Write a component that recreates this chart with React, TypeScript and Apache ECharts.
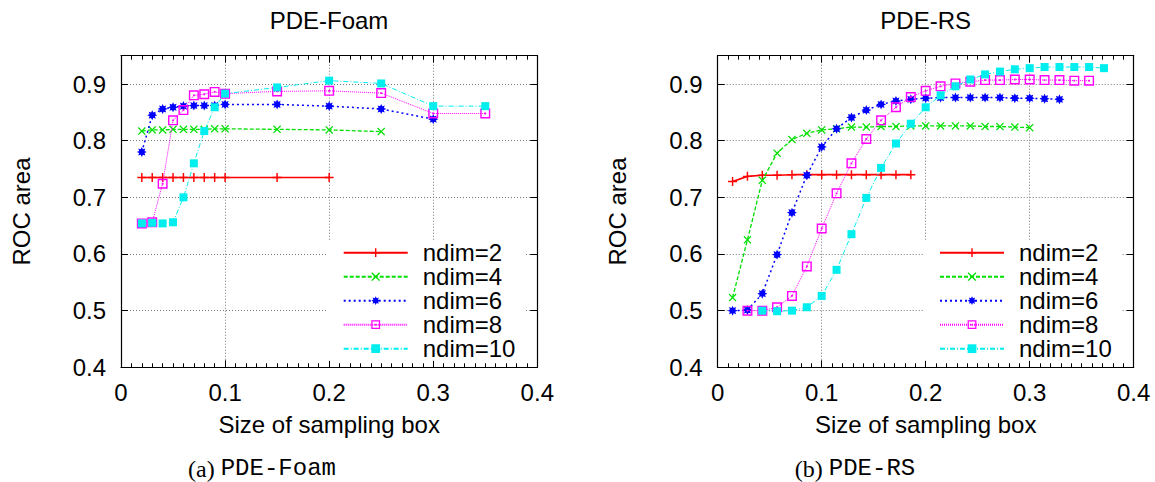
import React, { useEffect, useRef } from 'react';
import * as echarts from 'echarts';

// ---------- data ----------
const SERIES_NAMES = ['ndim=2', 'ndim=4', 'ndim=6', 'ndim=8', 'ndim=10'];

// PDE-Foam: box sizes
const X_FOAM = [0.02, 0.03, 0.04, 0.05, 0.06, 0.07, 0.08, 0.09, 0.1, 0.15, 0.2, 0.25, 0.3, 0.35];
const FOAM_NDIM2 = [0.735, 0.735, 0.735, 0.735, 0.735, 0.735, 0.735, 0.735, 0.735, 0.735, 0.735];
const FOAM_NDIM4 = [0.817, 0.819, 0.819, 0.82, 0.82, 0.82, 0.82, 0.821, 0.821, 0.82, 0.819, 0.816];
const FOAM_NDIM6 = [0.78, 0.845, 0.856, 0.859, 0.861, 0.862, 0.862, 0.862, 0.864, 0.864, 0.861, 0.856, 0.838];
const FOAM_NDIM8 = [0.654, 0.656, 0.724, 0.836, 0.854, 0.88, 0.882, 0.886, 0.883, 0.887, 0.888, 0.884, 0.848, 0.848];
const FOAM_NDIM10 = [0.654, 0.655, 0.654, 0.656, 0.7, 0.76, 0.817, 0.859, 0.883, 0.894, 0.906, 0.901, 0.861, 0.861];

// PDE-RS: box sizes
const X_RS = [0.0143, 0.0286, 0.0429, 0.0571, 0.0714, 0.0857, 0.1, 0.1143, 0.1286, 0.1429, 0.1571, 0.1714, 0.1857,
  0.2, 0.2143, 0.2286, 0.2429, 0.2571, 0.2714, 0.2857, 0.3, 0.3143, 0.3286, 0.3429, 0.3571, 0.3714];
const RS_START = [0, 0, 0, 1, 2]; // index in X_RS where each series begins
const RS_NDIM2 = [0.728, 0.737, 0.739, 0.739, 0.74, 0.74, 0.74, 0.74, 0.74, 0.74, 0.74, 0.74, 0.74];
const RS_NDIM4 = [0.523, 0.625, 0.73, 0.778, 0.802, 0.813, 0.819, 0.821, 0.824, 0.824, 0.825, 0.825, 0.826, 0.826,
  0.826, 0.826, 0.826, 0.825, 0.825, 0.824, 0.823];
const RS_NDIM6 = [0.5, 0.501, 0.53, 0.599, 0.673, 0.739, 0.789, 0.821, 0.841, 0.854, 0.864, 0.87, 0.873, 0.875,
  0.876, 0.876, 0.876, 0.876, 0.876, 0.875, 0.875, 0.874, 0.873];
const RS_NDIM8 = [0.5, 0.5, 0.506, 0.526, 0.578, 0.645, 0.707, 0.76, 0.803, 0.836, 0.859, 0.877, 0.888, 0.896,
  0.901, 0.904, 0.907, 0.907, 0.908, 0.908, 0.907, 0.907, 0.906, 0.906];
const RS_NDIM10 = [0.5, 0.499, 0.5, 0.506, 0.526, 0.572, 0.635, 0.699, 0.752, 0.795, 0.83, 0.859, 0.88, 0.896,
  0.908, 0.917, 0.922, 0.926, 0.928, 0.93, 0.93, 0.93, 0.93, 0.928];

const FOAM_Y = [FOAM_NDIM2, FOAM_NDIM4, FOAM_NDIM6, FOAM_NDIM8, FOAM_NDIM10];
const RS_Y = [RS_NDIM2, RS_NDIM4, RS_NDIM6, RS_NDIM8, RS_NDIM10];

const X_TICKS = [0, 0.1, 0.2, 0.3, 0.4];
const Y_TICKS = [0.4, 0.5, 0.6, 0.7, 0.8, 0.9];

// ---------- styles ----------
const FONT = '"Liberation Sans", Arial, Helvetica, sans-serif';
const FS = 24;
const COLORS = ['#ff0000', '#00e000', '#0000ff', '#ff00ff', '#00eeee'];

const PLUS = 'path://M4.2,0H5.8V4.2H10V5.8H5.8V10H4.2V5.8H0V4.2H4.2Z';
const CROSS = 'path://M0,1.1L1.1,0L5,3.9L8.9,0L10,1.1L6.1,5L10,8.9L8.9,10L5,6.1L1.1,10L0,8.9L3.9,5Z';
const STAR = (() => {
  const pts: string[] = [];
  for (let k = 0; k < 16; k++) {
    const r = k % 2 === 0 ? 5 : 2.9;
    const a = (k * Math.PI) / 8 - Math.PI / 2;
    pts.push((5 + r * Math.cos(a)).toFixed(2) + ',' + (5 + r * Math.sin(a)).toFixed(2));
  }
  return 'path://M' + pts.join('L') + 'Z';
})();
const SQDOT = 'path://M0,0H10V10H0Z M1.4,1.4V8.6H8.6V1.4Z M4.1,4.1H5.9V5.9H4.1Z';

const STYLES = [
  { symbol: PLUS, size: 9, width: 1.6, type: 'solid' as any },
  { symbol: CROSS, size: 8, width: 1.3, type: [4, 2] },
  { symbol: STAR, size: 10, width: 1.5, type: [2, 3] },
  { symbol: SQDOT, size: 10, width: 1, type: [1, 1] },
  { symbol: 'rect', size: 8, width: 1, type: [5, 2, 1, 2] },
];

const GRID_TOP = 55.7;
const GRID_H = 311.6;
const GRIDS = [
  { left: 121, top: GRID_TOP, width: 416.3, height: GRID_H },
  { left: 717.7, top: GRID_TOP, width: 416, height: GRID_H },
];

const xFmt = (v: number) => {
  const hit = X_TICKS.find((t) => Math.abs(t - v) < 1e-6);
  return hit === undefined ? '' : hit === 0 ? '0' : hit.toFixed(1);
};
const yFmt = (v: number) => {
  const hit = Y_TICKS.find((t) => Math.abs(t - v) < 1e-6);
  return hit === undefined ? '' : hit.toFixed(1);
};

function xAxes(g: number) {
  const common = {
    type: 'value',
    gridIndex: g,
    min: 0,
    max: 0.4,
    interval: 0.1,
    axisLine: { show: true, onZero: false, lineStyle: { color: '#000', width: 1.2 } },
    axisTick: { show: true, inside: true, length: 7, lineStyle: { color: '#000', width: 1 } },
    minorTick: { show: true, splitNumber: 10, length: 4, lineStyle: { color: '#000', width: 1 } },
    minorSplitLine: { show: false },
  };
  return [
    {
      ...common,
      position: 'bottom',
      splitLine: { show: true, lineStyle: { color: '#777', type: [1, 2], width: 1 } },
      axisLabel: { show: true, margin: 13, fontSize: FS, color: '#000', fontFamily: FONT, formatter: xFmt },
      name: 'Size of sampling box',
      nameLocation: 'middle',
      nameGap: 45,
      nameTextStyle: { fontSize: FS, color: '#000', fontFamily: FONT },
    },
    {
      ...common,
      position: 'top',
      splitLine: { show: false },
      axisLabel: { show: false },
    },
  ];
}

function yAxes(g: number) {
  const common = {
    type: 'value',
    gridIndex: g,
    min: 0.4,
    max: 0.95,
    interval: 0.1,
    axisLine: { show: true, onZero: false, lineStyle: { color: '#000', width: 1.2 } },
    axisTick: { show: true, inside: true, length: 7, lineStyle: { color: '#000', width: 1 } },
  };
  return [
    {
      ...common,
      position: 'left',
      splitLine: { show: true, lineStyle: { color: '#777', type: [1, 2], width: 1 } },
      axisLabel: { show: true, margin: 15, fontSize: FS, color: '#000', fontFamily: FONT, formatter: yFmt },
      name: 'ROC area',
      nameLocation: 'middle',
      nameGap: 88,
      nameTextStyle: { fontSize: FS, color: '#000', fontFamily: FONT },
    },
    {
      ...common,
      position: 'right',
      splitLine: { show: false },
      axisLabel: { show: false },
    },
  ];
}

function makeSeries(g: number, xs: number[], ys: number[][], starts: number[]) {
  return ys.map((vals, k) => ({
    type: 'line',
    name: SERIES_NAMES[k],
    xAxisIndex: g * 2,
    yAxisIndex: g * 2,
    data: vals.map((y, i) => [xs[starts[k] + i], y]),
    symbol: STYLES[k].symbol,
    symbolSize: STYLES[k].size,
    showSymbol: true,
    showAllSymbol: true,
    lineStyle: { color: COLORS[k], width: STYLES[k].width, type: STYLES[k].type },
    itemStyle: { color: COLORS[k], borderWidth: 0 },
    emphasis: { disabled: true },
    z: 2 + k,
    animation: false,
  }));
}

function legend(left: number) {
  return {
    data: SERIES_NAMES,
    orient: 'vertical',
    left,
    top: 240,
    itemWidth: 64,
    itemHeight: 11,
    itemGap: 0,
    padding: [0.7, 10, 0, 14.7],
    backgroundColor: '#fff',
    selectedMode: false,
    textStyle: { fontSize: FS, lineHeight: 24, color: '#000', fontFamily: FONT, padding: [0, 0, 0, 10] },
  };
}

export default function App() {
  const ref = useRef<HTMLDivElement>(null);
  useEffect(() => {
    document.body.style.margin = '0';
    if (!ref.current) return;
    const chart = echarts.init(ref.current, null, { renderer: 'svg' });
    const capRich = {
      a: { fontFamily: '"Liberation Serif", "Times New Roman", serif', fontSize: 24, fontWeight: 'normal', color: '#000', lineHeight: 20 },
      b: { fontFamily: '"Liberation Mono", "DejaVu Sans Mono", monospace', fontSize: 24, fontWeight: 'normal', color: '#000', lineHeight: 20 },
    };
    const option: any = {
      animation: false,
      backgroundColor: '#fff',
      textStyle: { fontFamily: FONT },
      title: [
        { text: 'PDE-Foam', left: 329, top: 8.5, textAlign: 'center', padding: 0,
          textStyle: { fontSize: FS, lineHeight: 24, fontWeight: 'normal', color: '#000', fontFamily: FONT } },
        { text: 'PDE-RS', left: 925.7, top: 8.5, textAlign: 'center', padding: 0,
          textStyle: { fontSize: FS, lineHeight: 24, fontWeight: 'normal', color: '#000', fontFamily: FONT } },
        { text: '{a|(a) }{b|PDE-Foam}', left: 262, top: 458.5, textAlign: 'center', padding: 0,
          textStyle: { rich: capRich, lineHeight: 20, fontWeight: 'normal' } },
        { text: '{a|(b) }{b|PDE-RS}', left: 855, top: 458.5, textAlign: 'center', padding: 0,
          textStyle: { rich: capRich, lineHeight: 20, fontWeight: 'normal' } },
      ],
      grid: GRIDS.map((g) => ({ ...g, containLabel: false, outerBoundsMode: 'none' })),
      xAxis: [...xAxes(0), ...xAxes(1)],
      yAxis: [...yAxes(0), ...yAxes(1)],
      legend: [legend(328), legend(924.3)],
      tooltip: { show: false },
      series: [
        ...makeSeries(0, X_FOAM, FOAM_Y, [0, 0, 0, 0, 0]),
        ...makeSeries(1, X_RS, RS_Y, RS_START),
      ],
    };
    chart.setOption(option);
    return () => chart.dispose();
  }, []);
  return <div ref={ref} style={{ width: 1155, height: 482, background: '#fff' }} />;
}
